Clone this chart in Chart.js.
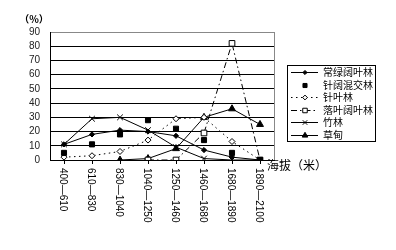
<!DOCTYPE html>
<html>
<head>
<meta charset="utf-8">
<script src="https://cdn.jsdelivr.net/npm/chart.js@4.4.1/dist/chart.umd.min.js"></script>
<style>
  html, body { margin: 0; padding: 0; background: #fff; }
</style>
</head>
<body>
<canvas id="chart" width="396" height="250"></canvas>
<script>
// elevation bands (m)
const categories = ['400—610', '610—830', '830—1040', '1040—1250', '1250—1460', '1460—1680', '1680—1890', '1890—2100'];
const yTicks = [0, 10, 20, 30, 40, 50, 60, 70, 80, 90];

// share of each vegetation type (%)
const evergreen = [11, 18, 21, 20, 17, 7, 2, 0];      // 常绿阔叶林
const mixedForest = [5, 11, 18, 28, 22, 14, 5, 0];    // 针阔混交林
const conifer = [2, 3, 6, 14, 29, 30, 13, 0];         // 针叶林
const deciduous = [null, null, null, 0, 0, 19, 82, 0]; // 落叶阔叶林
const bamboo = [11, 29, 30, 21, 9, 1, 0, 0];          // 竹林
const meadow = [null, null, 0, 1, 8, 30, 36, 25];     // 草甸

const CJK = '"Noto Sans CJK SC", "Noto Sans", sans-serif';

function series(label, data, style) {
  return Object.assign({
    label: label,
    data: data,
    borderColor: '#000',
    backgroundColor: '#000',
    pointBorderColor: '#000',
    pointBackgroundColor: '#000',
    borderWidth: 1,
    pointBorderWidth: 1,
    pointHoverRadius: 0,
    tension: 0,
    fill: false
  }, style);
}

const datasets = [
  series('常绿阔叶林', evergreen, { pointStyle: 'rectRot', pointRadius: 2.6 }),
  series('针阔混交林', mixedForest, { showLine: false, pointStyle: 'rect', pointRadius: 3.6 }),
  series('针叶林', conifer, { borderDash: [1.5, 3.5], pointStyle: 'rectRot', pointRadius: 3, pointBackgroundColor: '#fff' }),
  series('落叶阔叶林', deciduous, { borderDash: [6, 3, 1.5, 3], pointStyle: 'rect', pointRadius: 4, pointBackgroundColor: '#fff' }),
  series('竹林', bamboo, { pointStyle: 'crossRot', pointRadius: 4 }),
  series('草甸', meadow, { pointStyle: 'triangle', pointRadius: 4 })
];

// small legend markers, same shapes as the points
function marker(ctx, style, r, x, y, fill) {
  ctx.beginPath();
  if (style === 'rect') {
    const s = r * Math.SQRT1_2;
    ctx.rect(x - s, y - s, 2 * s, 2 * s);
  } else if (style === 'rectRot') {
    ctx.moveTo(x, y - r); ctx.lineTo(x + r, y); ctx.lineTo(x, y + r); ctx.lineTo(x - r, y); ctx.closePath();
  } else if (style === 'triangle') {
    ctx.moveTo(x, y - r); ctx.lineTo(x + r * 0.87, y + r / 2); ctx.lineTo(x - r * 0.87, y + r / 2); ctx.closePath();
  } else if (style === 'crossRot') {
    const s = r * Math.SQRT1_2;
    ctx.moveTo(x - s, y - s); ctx.lineTo(x + s, y + s);
    ctx.moveTo(x + s, y - s); ctx.lineTo(x - s, y + s);
    ctx.stroke();
    return;
  }
  ctx.fillStyle = fill;
  ctx.fill();
  ctx.stroke();
}

const decorations = {
  id: 'decorations',
  afterDraw(chart) {
    const ctx = chart.ctx;
    const area = chart.chartArea;
    const xs = chart.scales.x;
    ctx.save();

    // grey right edge of the plot area
    ctx.strokeStyle = '#888';
    ctx.lineWidth = 1;
    ctx.beginPath();
    ctx.moveTo(Math.round(area.right) + 0.5, area.top);
    ctx.lineTo(Math.round(area.right) + 0.5, area.bottom);
    ctx.stroke();

    // category labels, read top to bottom
    ctx.fillStyle = '#000';
    ctx.font = '10px "Liberation Sans", sans-serif';
    ctx.textAlign = 'left';
    ctx.textBaseline = 'middle';
    categories.forEach((c, i) => {
      const x = xs.getPixelForValue(i) - 1;
      ctx.save();
      ctx.translate(x, area.bottom + 8);
      ctx.rotate(Math.PI / 2);
      ctx.fillText(c, 0, 0);
      ctx.restore();
    });

    // axis titles
    ctx.font = '12px ' + CJK;
    ctx.fillText('海拔（米）', area.right - 7, area.bottom + 5);
    ctx.font = 'bold 10px ' + CJK;
    ctx.textAlign = 'center';
    ctx.fillText('（%）', 34, 19);

    // legend box
    const bx = 287, by = 65, bw = 88, bh = 76;
    ctx.strokeStyle = '#000';
    ctx.strokeRect(bx + 0.5, by + 0.5, bw, bh);
    ctx.font = '10px ' + CJK;
    ctx.textAlign = 'left';
    chart.data.datasets.forEach((ds, i) => {
      const y = Math.round(by + 7 + i * 12.6) + 0.5;
      ctx.strokeStyle = '#000';
      if (ds.showLine !== false) {
        ctx.setLineDash(ds.borderDash || []);
        ctx.beginPath();
        ctx.moveTo(bx + 4, y);
        ctx.lineTo(bx + 31, y);
        ctx.stroke();
        ctx.setLineDash([]);
      }
      marker(ctx, ds.pointStyle, ds.pointRadius * 0.8, bx + 18, y, ds.pointBackgroundColor);
      ctx.fillStyle = '#000';
      ctx.fillText(ds.label, bx + 36, y);
    });
    ctx.restore();
  }
};

new Chart(document.getElementById('chart'), {
  type: 'line',
  data: { labels: categories, datasets: datasets },
  plugins: [decorations],
  options: {
    responsive: false,
    animation: false,
    layout: { padding: { top: 32, right: 122, left: 0, bottom: 0 } },
    plugins: { legend: { display: false }, tooltip: { enabled: false } },
    scales: {
      x: {
        offset: true,
        grid: { display: true, drawOnChartArea: false, drawTicks: true, tickLength: 4, color: '#000' },
        border: { color: '#000' },
        ticks: { display: false },
        afterFit: s => { s.height = 90; }
      },
      y: {
        min: yTicks[0],
        max: yTicks[yTicks.length - 1],
        afterBuildTicks: s => { s.ticks = yTicks.map(v => ({ value: v })); },
        ticks: { autoSkip: false, color: '#222', padding: 10, font: { family: '"Liberation Sans", sans-serif', size: 10 } },
        grid: { drawTicks: false, color: c => (c.tick && c.tick.value === 90 ? '#888' : '#000') },
        border: { color: '#000' },
        afterFit: s => { s.width = 50; }
      }
    }
  }
});
</script>
</body>
</html>
